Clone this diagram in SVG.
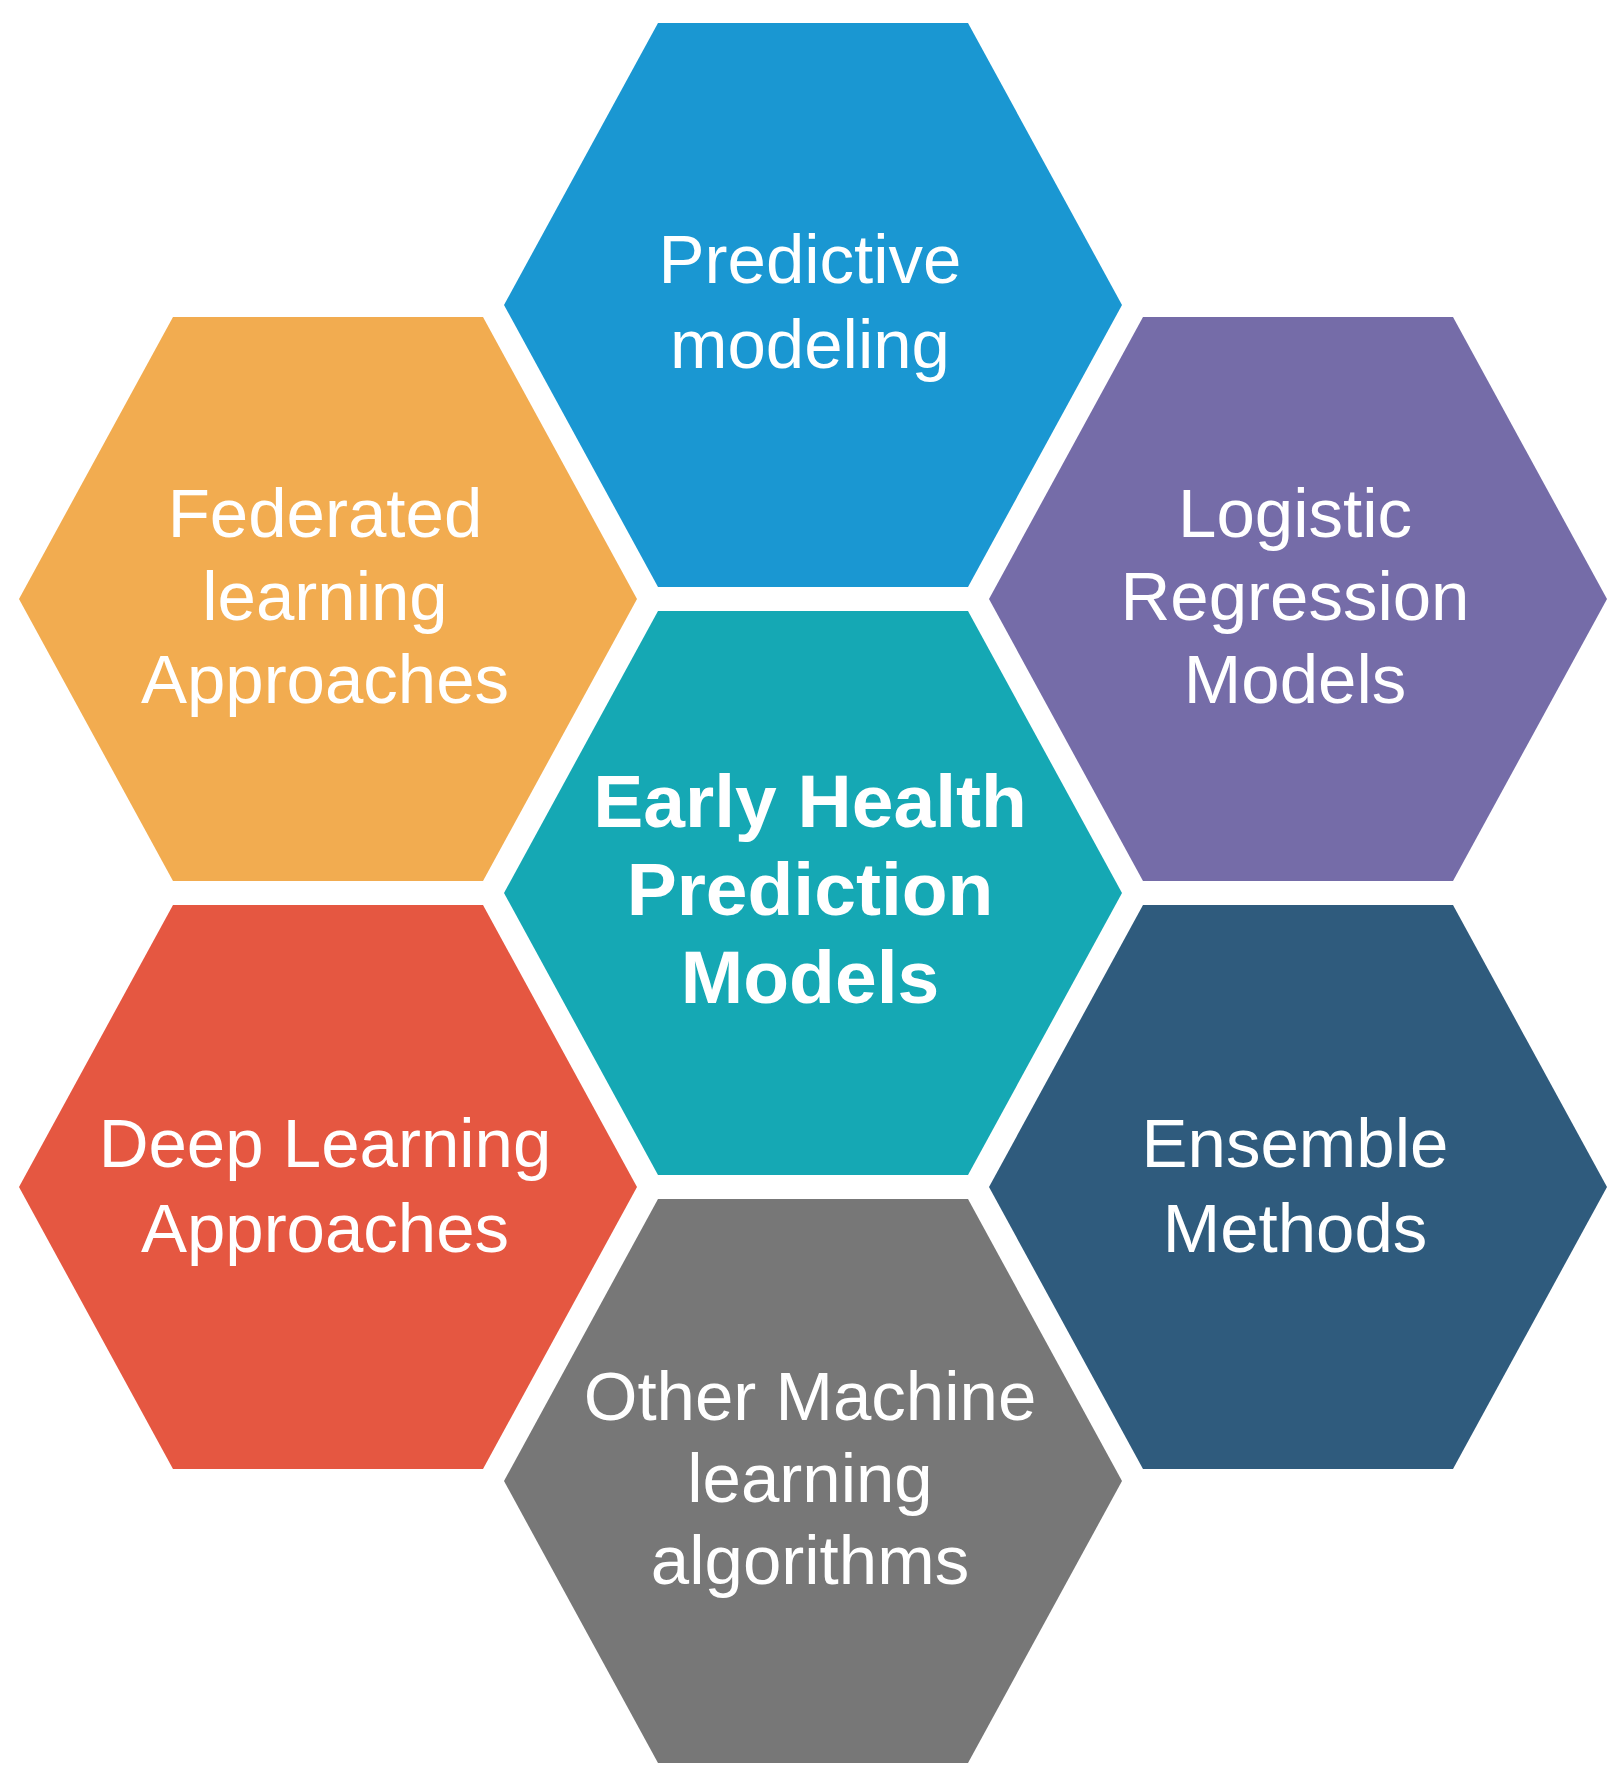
<svg xmlns="http://www.w3.org/2000/svg" width="1622" height="1786" viewBox="0 0 1622 1786">
<style>
  .lbl { font-family: "Liberation Sans", Arial, sans-serif; font-size: 69px; fill: #FFFFFF; text-anchor: middle; }
  .bold { font-weight: bold; font-size: 75px; }
</style>
<defs>
  <polygon id="hex" points="-155,-282 155,-282 309,0 155,282 -155,282 -309,0"/>
</defs>
<rect width="1622" height="1786" fill="#FFFFFF"/>
<g id="connectors"/>
<g id="node-predictive">
  <use href="#hex" x="813" y="305" fill="#1A97D2"/>
  <text class="lbl" x="810" y="283">Predictive</text>
  <text class="lbl" x="810" y="368">modeling</text>
</g>
<g id="node-federated">
  <use href="#hex" x="328" y="599" fill="#F2AC50"/>
  <text class="lbl" x="325" y="537">Federated</text>
  <text class="lbl" x="325" y="620">learning</text>
  <text class="lbl" x="325" y="703">Approaches</text>
</g>
<g id="node-logistic">
  <use href="#hex" x="1298" y="599" fill="#756CA8"/>
  <text class="lbl" x="1295" y="537">Logistic</text>
  <text class="lbl" x="1295" y="620">Regression</text>
  <text class="lbl" x="1295" y="703">Models</text>
</g>
<g id="node-center">
  <use href="#hex" x="813" y="893" fill="#15A8B4"/>
  <text class="lbl bold" x="810" y="827">Early Health</text>
  <text class="lbl bold" x="810" y="915">Prediction</text>
  <text class="lbl bold" x="810" y="1003">Models</text>
</g>
<g id="node-deep">
  <use href="#hex" x="328" y="1187" fill="#E55741"/>
  <text class="lbl" x="325" y="1167">Deep Learning</text>
  <text class="lbl" x="325" y="1252">Approaches</text>
</g>
<g id="node-ensemble">
  <use href="#hex" x="1298" y="1187" fill="#2F5B7D"/>
  <text class="lbl" x="1295" y="1167">Ensemble</text>
  <text class="lbl" x="1295" y="1252">Methods</text>
</g>
<g id="node-other">
  <use href="#hex" x="813" y="1481" fill="#777777"/>
  <text class="lbl" x="810" y="1420">Other Machine</text>
  <text class="lbl" x="810" y="1502">learning</text>
  <text class="lbl" x="810" y="1584">algorithms</text>
</g>
</svg>
